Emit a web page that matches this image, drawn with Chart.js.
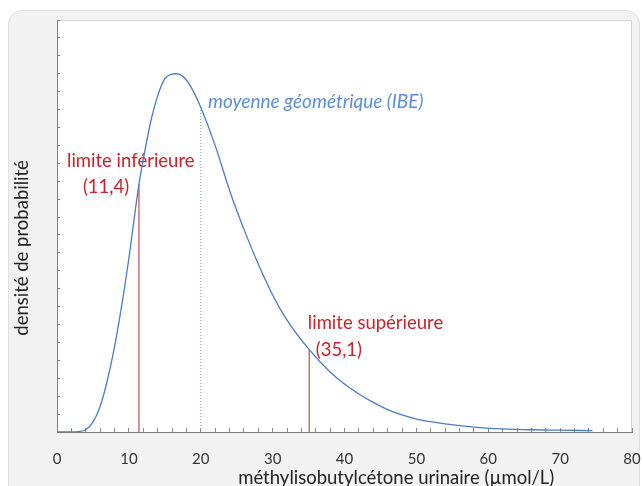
<!DOCTYPE html>
<html>
<head>
<meta charset="utf-8">
<script src="https://cdn.jsdelivr.net/npm/chart.js@4"></script>
<style>
  html, body { margin: 0; padding: 0; background: #fff; }
  #wrap { position: relative; width: 643px; height: 486px; overflow: hidden; }
  #card { position: absolute; left: 8px; top: 10px; width: 630px; height: 500px;
          background: #f2f2f2; border: 1px solid #e0e0e0; border-radius: 14px; }
  #chart { position: absolute; left: 0; top: 0; }
</style>
</head>
<body>
<div id="wrap">
  <div id="card"></div>
  <canvas id="chart" width="643" height="486"></canvas>
</div>
<script>
// values
const concentration = [0, 2, 3, 4, 5, 6, 7, 8, 9, 10, 11.4, 12, 13, 14, 15, 16, 16.5, 17, 18, 19, 20,
    22, 24, 26, 28, 30, 32, 35.1, 38, 40, 42, 44, 46, 48, 50, 52, 54, 58, 62, 66, 70, 74.5];
const density = [0, 0, 0.0001, 0.0005, 0.0022, 0.0057, 0.0115, 0.0190, 0.0282, 0.0388, 0.0553,
    0.0608, 0.0690, 0.0750, 0.0789, 0.0799, 0.0800, 0.0799, 0.0786, 0.0760, 0.0725,
    0.0640, 0.0540, 0.0453, 0.0375, 0.0306, 0.0250, 0.0184, 0.0134, 0.0107, 0.0085,
    0.0066, 0.0050, 0.0038, 0.0029, 0.0023, 0.0018, 0.0011, 0.0007, 0.0005, 0.0004, 0.0003];

const limitValues = [11.4, 35.1];
const limitDensity = [0.0553, 0.0184];
const geoMean = 20;
const geoMeanDensity = 0.0725;

const xMin = 0, xMax = 80, xStep = 2, xLabelStep = 10;
const yMin = 0, yMax = 0.092, yStep = 0.004;

const xTitle = 'méthylisobutylcétone urinaire (µmol/L)';
const yTitle = 'densité de probabilité';

const RED = '#c8232c';
const BLUE = '#4a7cc6';

const vline = function (x, top) {
    return [{x: x, y: 0}, {x: x, y: top}];
};

const datasets = [
    {
        label: 'densité',
        data: concentration.map((c, i) => ({x: c, y: density[i]})),
        showLine: true,
        borderColor: BLUE,
        borderWidth: 1.3,
        pointRadius: 0,
        cubicInterpolationMode: 'monotone',
    },
    {
        label: 'moyenne',
        data: vline(geoMean, geoMeanDensity),
        showLine: true,
        borderColor: '#6b9ad9',
        borderWidth: 1,
        borderDash: [1, 2],
        pointRadius: 0,
    },
];
limitValues.forEach((v, i) => {
    datasets.push({
        label: 'limite ' + i,
        data: vline(v, limitDensity[i]),
        showLine: true,
        borderColor: '#d5535a',
        borderWidth: 1.3,
        pointRadius: 0,
    });
});

const notes = [
    {text: 'moyenne géométrique (IBE)', x: 21.0, y: 0.0737, color: '#5b8ed6', font: 'italic 19px Lato'},
    {text: 'limite inférieure', x: 1.4, y: 0.0604, color: RED, font: '18.5px Lato'},
    {text: '(11,4)', x: 3.6, y: 0.0548, color: RED, font: '18.5px Lato'},
    {text: 'limite supérieure', x: 34.9, y: 0.0244, color: RED, font: '18.5px Lato'},
    {text: '(35,1)', x: 36.0, y: 0.0184, color: RED, font: '18.5px Lato'},
];

const notesPlugin = {
    id: 'notes',
    beforeDraw(chart) {
        const {ctx, chartArea: a} = chart;
        ctx.save();
        ctx.fillStyle = '#fff';
        ctx.fillRect(a.left, a.top, a.right - a.left, a.bottom - a.top);
        ctx.strokeStyle = '#d4d4d4';
        ctx.lineWidth = 1;
        ctx.beginPath();
        ctx.moveTo(a.left, a.top + 0.5);
        ctx.lineTo(a.right - 0.5, a.top + 0.5);
        ctx.lineTo(a.right - 0.5, a.bottom);
        ctx.stroke();
        ctx.restore();
    },
    beforeDatasetsDraw(chart) {
        const {ctx, scales: {x, y}} = chart;
        ctx.save();
        ctx.textAlign = 'left';
        ctx.textBaseline = 'middle';
        notes.forEach(n => {
            ctx.font = n.font;
            ctx.fillStyle = n.color;
            ctx.fillText(n.text, x.getPixelForValue(n.x), y.getPixelForValue(n.y));
        });
        ctx.restore();
    },
    afterDraw(chart) {
        const {ctx, chartArea: a, scales: {x, y}} = chart;
        ctx.save();
        ctx.fillStyle = '#222';
        ctx.font = '18.5px Lato';
        ctx.textAlign = 'center';
        ctx.textBaseline = 'middle';
        ctx.fillText(xTitle, x.getPixelForValue(47.2), a.bottom + 46);
        ctx.translate(a.left - 35, y.getPixelForValue(0.0411));
        ctx.rotate(-Math.PI / 2);
        ctx.fillText(yTitle, 0, 0);
        ctx.restore();
    }
};

const chart = new Chart(document.getElementById('chart'), {
    type: 'scatter',
    data: {datasets: datasets},
    plugins: [notesPlugin],
    options: {
        responsive: false,
        animation: false,
        layout: {padding: {left: 0, top: 20, right: 11, bottom: 0}},
        scales: {
            x: {
                type: 'linear',
                min: xMin,
                max: xMax,
                afterFit: function (scale) {
                    scale.height = 54;
                    scale.paddingLeft = 0;
                    scale.paddingRight = 0;
                },
                border: {color: '#7a7a7a'},
                grid: {drawOnChartArea: false, tickLength: -4, tickColor: '#8a8a8a'},
                ticks: {
                    stepSize: xStep,
                    autoSkip: false,
                    maxRotation: 0,
                    padding: 22,
                    color: '#333',
                    font: {family: 'Lato', size: 15},
                    callback: function (value) {
                        return value % xLabelStep === 0 ? value : '';
                    },
                },
            },
            y: {
                type: 'linear',
                min: yMin,
                max: yMax,
                afterFit: function (scale) {
                    scale.width = 57;
                    scale.paddingTop = 0;
                    scale.paddingBottom = 0;
                },
                border: {color: '#7a7a7a'},
                grid: {drawOnChartArea: false, tickLength: -3, tickColor: '#7a7a7a'},
                ticks: {stepSize: yStep, display: false},
            },
        },
        plugins: {
            legend: {display: false},
            tooltip: {enabled: false},
            title: {display: false},
        },
    },
});
</script>
</body>
</html>
